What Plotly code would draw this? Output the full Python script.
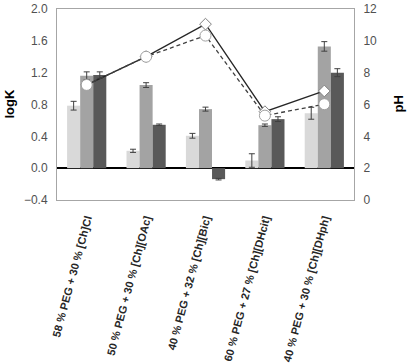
import plotly.graph_objects as go

categories = ["58 % PEG + 30 % [Ch]Cl", "50 % PEG + 30 % [Ch][OAc]", "40 % PEG + 32 % [Ch][Bic]",
              "60 % PEG + 27 % [Ch][DHcit]", "40 % PEG + 30 % [Ch][DHph]"]
logk_light = [0.785, 0.218, 0.407, 0.096, 0.69]
err_light = [0.055, 0.02, 0.03, 0.085, 0.075]
logk_mid = [1.16, 1.044, 0.742, 0.54, 1.53]
err_mid = [0.05, 0.03, 0.025, 0.015, 0.06]
logk_dark = [1.17, 0.545, -0.138, 0.616, 1.20]
err_dark = [0.04, 0.01, 0.01, 0.03, 0.05]
ph_solid = [7.23, 9.01, 11.05, 5.55, 6.85]
ph_dashed = [7.23, 9.0, 10.33, 5.3, 6.02]

FONT = "Arial, Liberation Sans, sans-serif"
fig = go.Figure()
for vals, errs, col in [(logk_light, err_light, "#d9d9d9"),
                        (logk_mid, err_mid, "#a3a3a3"),
                        (logk_dark, err_dark, "#595959")]:
    fig.add_trace(go.Bar(x=categories, y=vals, marker=dict(color=col, line=dict(width=0)),
                         error_y=dict(type="data", array=errs, color="#404040", thickness=1, width=3),
                         showlegend=False))

fig.add_trace(go.Scatter(x=categories, y=ph_solid, yaxis="y2", mode="lines+markers",
                         line=dict(color="#262626", width=1.3),
                         marker=dict(symbol="diamond", size=9, color="white",
                                     line=dict(color="#808080", width=1)),
                         showlegend=False))
fig.add_trace(go.Scatter(x=categories, y=ph_dashed, yaxis="y2", mode="lines+markers",
                         line=dict(color="#404040", width=1.3, dash="4px,3px"),
                         marker=dict(symbol="circle", size=11, color="white",
                                     line=dict(color="#a0a0a0", width=1)),
                         showlegend=False))

fig.update_layout(
    width=408, height=363,
    margin=dict(l=57, r=54, t=9, b=163, autoexpand=False),
    paper_bgcolor="white", plot_bgcolor="white",
    barmode="group", bargap=0.34, bargroupgap=0,
    font=dict(family=FONT),
    xaxis=dict(showline=True, linecolor="#a6a6a6", linewidth=1, mirror=True,
               tickangle=-75, ticks="", automargin=False, ticklabelstandoff=7,
               tickfont=dict(size=11, color="#262626", family=FONT, weight="bold")),
    yaxis=dict(range=[-0.4, 2.0], dtick=0.4, tickformat=".1f", showgrid=False,
               zeroline=True, zerolinecolor="black", zerolinewidth=2,
               showline=True, linecolor="#a6a6a6", linewidth=1, ticks="",
               ticklabelstandoff=6,
               tickfont=dict(size=12, color="#505050"), automargin=False),
    yaxis2=dict(range=[0, 12], dtick=2, overlaying="y", side="right", showgrid=False,
                zeroline=False, showline=True, linecolor="#a6a6a6", linewidth=1, ticks="",
                ticklabelstandoff=6,
                tickfont=dict(size=12, color="#505050"), automargin=False),
    annotations=[
        dict(text="<b>logK</b>", xref="paper", yref="paper", x=0, y=0.5, xshift=-48,
             xanchor="center", yanchor="middle",
             textangle=-90, showarrow=False, font=dict(size=13, color="black")),
        dict(text="<b>pH</b>", xref="paper", yref="paper", x=1, y=0.5, xshift=44,
             xanchor="center", yanchor="middle",
             textangle=-90, showarrow=False, font=dict(size=13, color="black")),
    ],
)
fig.write_html("out.html")
